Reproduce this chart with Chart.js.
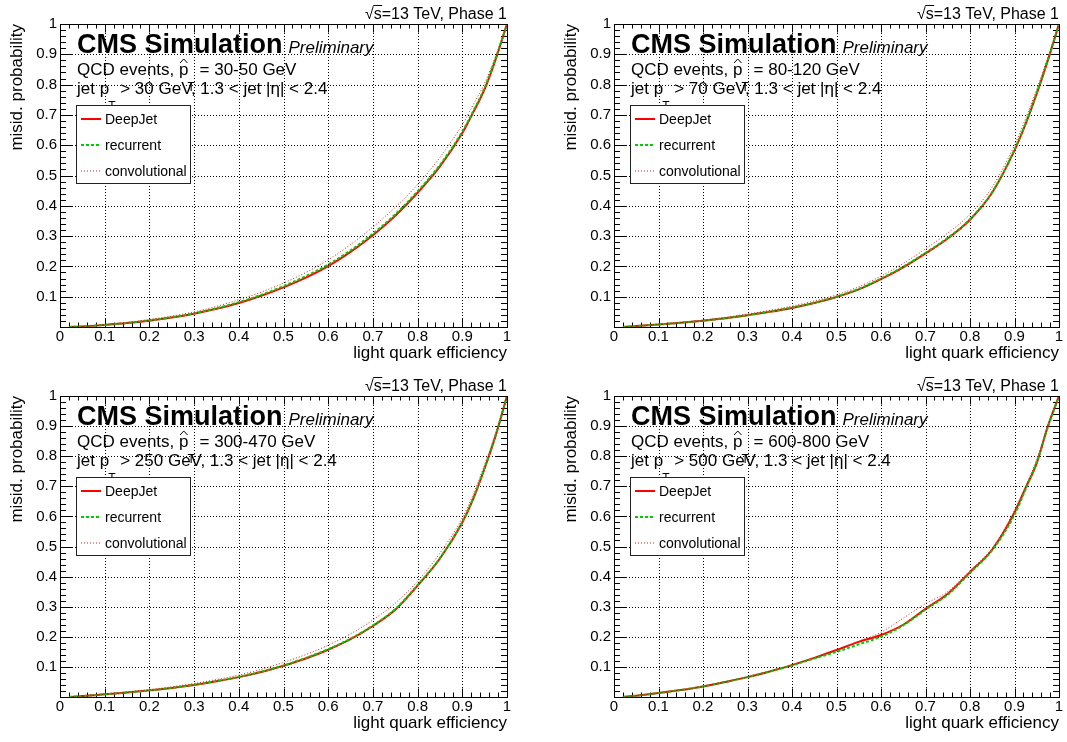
<!DOCTYPE html>
<html><head><meta charset="utf-8">
<script src="https://cdn.jsdelivr.net/npm/chart.js@4.4.1/dist/chart.umd.min.js"></script>
<style>
html,body{margin:0;padding:0;background:#fff;}
#wrap{position:relative;width:1067px;height:742px;overflow:hidden;background:#fff;}
canvas{position:absolute;}
</style></head><body><div id="wrap">
<canvas id="c1" width="533" height="371" style="left:0px;top:0px"></canvas>
<canvas id="c2" width="534" height="371" style="left:533px;top:0px"></canvas>
<canvas id="c3" width="533" height="371" style="left:0px;top:371px"></canvas>
<canvas id="c4" width="534" height="371" style="left:533px;top:371px"></canvas>
</div>
<script>
// ---------------- data ----------------
const effA = [0.02,0.05,0.1,0.15,0.2,0.25,0.3,0.35,0.4,0.45,0.5,0.55,0.6,0.65,0.7,0.75,0.8,0.85,0.9,0.925,0.95,0.975,1.0];

const deep1 = [0,0.002,0.007,0.013,0.021,0.031,0.044,0.060,0.079,0.103,0.131,0.163,0.201,0.248,0.303,0.367,0.443,0.530,0.640,0.710,0.785,0.885,1.0];
const rec1  = [0,0.002,0.007,0.013,0.022,0.032,0.045,0.062,0.082,0.106,0.135,0.168,0.206,0.253,0.308,0.372,0.448,0.535,0.645,0.714,0.790,0.888,1.0];
const conv1 = [0,0.002,0.008,0.015,0.025,0.036,0.050,0.068,0.090,0.115,0.145,0.180,0.222,0.272,0.330,0.395,0.470,0.560,0.668,0.735,0.805,0.895,1.0];

const deep2 = [0,0.003,0.008,0.014,0.021,0.029,0.039,0.050,0.063,0.079,0.099,0.124,0.158,0.197,0.243,0.292,0.354,0.444,0.583,0.670,0.770,0.880,1.0];
const rec2  = [0,0.003,0.008,0.014,0.021,0.029,0.039,0.051,0.064,0.080,0.100,0.126,0.160,0.199,0.245,0.294,0.356,0.446,0.585,0.672,0.772,0.882,1.0];
const conv2 = [0,0.003,0.009,0.015,0.023,0.032,0.043,0.055,0.069,0.086,0.106,0.133,0.168,0.210,0.258,0.310,0.372,0.462,0.600,0.688,0.785,0.890,1.0];

const deep3 = [0,0.003,0.009,0.015,0.022,0.030,0.040,0.052,0.066,0.083,0.104,0.128,0.157,0.192,0.236,0.290,0.370,0.460,0.580,0.660,0.760,0.870,1.0];
const rec3  = [0,0.003,0.009,0.015,0.022,0.030,0.041,0.053,0.067,0.084,0.105,0.130,0.159,0.194,0.238,0.292,0.372,0.462,0.582,0.662,0.762,0.872,1.0];
const conv3 = [0,0.003,0.010,0.017,0.025,0.034,0.045,0.058,0.073,0.092,0.115,0.141,0.172,0.210,0.256,0.312,0.385,0.478,0.595,0.675,0.772,0.878,1.0];

const deep4 = [0,0.004,0.013,0.023,0.035,0.050,0.066,0.085,0.106,0.130,0.156,0.183,0.206,0.240,0.293,0.343,0.415,0.490,0.613,0.695,0.777,0.900,1.0];
const rec4  = [0,0.004,0.013,0.023,0.035,0.050,0.066,0.085,0.105,0.128,0.150,0.175,0.200,0.238,0.290,0.340,0.412,0.488,0.605,0.690,0.780,0.897,1.0];
const conv4 = [0,0.004,0.013,0.023,0.035,0.050,0.067,0.086,0.107,0.131,0.157,0.185,0.215,0.262,0.310,0.350,0.420,0.495,0.620,0.700,0.790,0.900,1.0];

const xTicks = [0,0.1,0.2,0.3,0.4,0.5,0.6,0.7,0.8,0.9,1];
const xTickLabels = ['0','0.1','0.2','0.3','0.4','0.5','0.6','0.7','0.8','0.9','1'];
const yTicks = [0.1,0.2,0.3,0.4,0.5,0.6,0.7,0.8,0.9,1];
const yTickLabels = ['0.1','0.2','0.3','0.4','0.5','0.6','0.7','0.8','0.9','1'];
const ptBins = ['30-50','80-120','300-470','600-800'];
const jetPtCuts = ['30','70','250','500'];
const seriesNames = ['DeepJet','recurrent','convolutional'];

// ---------------- styling ----------------
const FONT = '"Liberation Sans", Arial, Helvetica, sans-serif';
const styles = [
  {color:'#ff0000', width:2, dash:[]},
  {color:'#00cc00', width:2, dash:[3,2]},
  {color:'#cc2020', width:1, dash:[1,2]}
];
const panels = [
  {id:'c1', w:533, h:371, area:{l:60,r:507,t:24,b:327}, series:[deep1,rec1,conv1]},
  {id:'c2', w:534, h:371, area:{l:81,r:526,t:24,b:327}, series:[deep2,rec2,conv2]},
  {id:'c3', w:533, h:371, area:{l:60,r:507,t:25,b:326}, series:[deep3,rec3,conv3]},
  {id:'c4', w:534, h:371, area:{l:81,r:526,t:25,b:326}, series:[deep4,rec4,conv4]}
];

function hline(ctx,x1,x2,y){ctx.beginPath();ctx.moveTo(x1,y);ctx.lineTo(x2,y);ctx.stroke();}
function vline(ctx,x,y1,y2){ctx.beginPath();ctx.moveTo(x,y1);ctx.lineTo(x,y2);ctx.stroke();}

function rootPlugin(pi){
  return {
    id:'rootStyle'+pi,
    beforeDatasetsDraw(chart){
      const ctx = chart.ctx, xs = chart.scales.x, ys = chart.scales.y;
      const {left:l,right:r,top:t,bottom:b} = chart.chartArea;
      ctx.save();
      ctx.strokeStyle = '#000'; ctx.lineWidth = 1;
      // dotted grid
      ctx.setLineDash([1,2]);
      xTicks.forEach(v=>{ if(v>0&&v<1){ const px=Math.round(xs.getPixelForValue(v))+0.5; vline(ctx,px,t,b);} });
      yTicks.forEach(v=>{ if(v>0&&v<1){ const py=Math.round(ys.getPixelForValue(v))+0.5; hline(ctx,l,r,py);} });
      ctx.setLineDash([]);
      // ticks on all four sides (major every 0.1, minor every 0.02)
      for(let i=0;i<=50;i++){
        const v=i/50, major=(i%5===0);
        const px=Math.round(xs.getPixelForValue(v))+0.5;
        const lx = major?8.5:4.5;
        vline(ctx,px,b,b-lx); vline(ctx,px,t,t+lx);
        const py=Math.round(ys.getPixelForValue(v))+0.5;
        const ly = major?12:6;
        hline(ctx,l,l+ly,py); hline(ctx,r,r-ly,py);
      }
      ctx.restore();
    },
    afterDatasetsDraw(chart){
      const ctx = chart.ctx;
      const {left:l,right:r,top:t,bottom:b} = chart.chartArea;
      ctx.save();
      ctx.strokeStyle='#000'; ctx.lineWidth=1;
      ctx.strokeRect(Math.round(l)+0.5, Math.round(t)+0.5, Math.round(r-l), Math.round(b-t));
      ctx.fillStyle='#000';
      ctx.textBaseline='alphabetic';
      // top-right label
      ctx.font='16px '+FONT; ctx.textAlign='right';
      const s='√s=13 TeV, Phase 1';
      ctx.fillText(s, r, t-5);
      const wAll=ctx.measureText(s).width, wR=ctx.measureText('√').width, wS=ctx.measureText('s').width;
      ctx.fillRect(r-wAll+wR-0.5, t-19, wS+1, 1);
      // axis titles
      ctx.font='17px '+FONT;
      ctx.fillText('light quark efficiency', r, b+31);
      ctx.save(); ctx.translate(l-38.5, t); ctx.rotate(-Math.PI/2);
      ctx.textAlign='right'; ctx.fillText('misid. probability', 0, 0); ctx.restore();
      // CMS label
      ctx.textAlign='left';
      ctx.font='bold 27px '+FONT;
      ctx.fillText('CMS Simulation', l+17, t+29);
      const wc=ctx.measureText('CMS Simulation').width;
      ctx.font='italic 17px '+FONT;
      ctx.fillText('Preliminary', l+17+wc+6, t+29);
      // info lines
      let x=l+17, y1=t+51, y2=t+70;
      ctx.font='17px '+FONT;
      let a='QCD events, '; ctx.fillText(a,x,y1); x+=ctx.measureText(a).width;
      const wp=ctx.measureText('p').width;
      ctx.fillText('p',x,y1);
      ctx.beginPath(); ctx.lineWidth=1;
      ctx.moveTo(x+1,y1-12); ctx.lineTo(x+wp/2,y1-16); ctx.lineTo(x+wp-1,y1-12); ctx.stroke();
      ctx.font='12px '+FONT; ctx.fillText('T',x+wp-1,y1+16); const wt=ctx.measureText('T').width;
      x += wp-1+wt;
      ctx.font='17px '+FONT; ctx.fillText(' = '+ptBins[pi]+' GeV',x,y1);
      x=l+17;
      a='jet '; ctx.fillText(a,x,y2); x+=ctx.measureText(a).width;
      ctx.fillText('p',x,y2);
      ctx.font='12px '+FONT; ctx.fillText('T',x+wp-1,y2+16);
      x += wp-1+wt;
      ctx.font='17px '+FONT; ctx.fillText(' > '+jetPtCuts[pi]+' GeV, 1.3 < jet |η| < 2.4',x,y2);
      // legend
      const bx=Math.round(l+16)+0.5, by=Math.round(t+81)+0.5, bw=114, bh=78;
      ctx.fillStyle='#fff'; ctx.fillRect(bx,by,bw,bh);
      ctx.strokeStyle='#222'; ctx.lineWidth=1; ctx.strokeRect(bx,by,bw,bh);
      const ys=[t+95,t+121,t+147];
      ctx.font='14px '+FONT; ctx.textAlign='left';
      seriesNames.forEach((n,i)=>{
        const st=styles[i];
        ctx.strokeStyle=st.color; ctx.lineWidth=st.width; ctx.setLineDash(st.dash);
        hline(ctx,l+21,l+41,ys[i]);
        ctx.setLineDash([]);
        ctx.fillStyle='#000'; ctx.fillText(n,l+45,ys[i]+5);
      });
      ctx.restore();
    }
  };
}

panels.forEach((p,pi)=>{
  const datasets = p.series.map((vals,i)=>({
    label: seriesNames[i],
    data: effA.map((x,k)=>({x:x, y:vals[k]})),
    borderColor: styles[i].color,
    borderWidth: styles[i].width,
    borderDash: styles[i].dash,
    pointRadius: 0,
    fill: false,
    cubicInterpolationMode: 'monotone',
    order: 3-i
  }));
  new Chart(document.getElementById(p.id), {
    type:'line',
    data:{datasets},
    options:{
      responsive:false, animation:false, events:[],
      layout:{padding:{left:p.area.l-60, right:p.w-p.area.r, top:p.area.t, bottom:0}},
      plugins:{legend:{display:false}, tooltip:{enabled:false}},
      scales:{
        x:{type:'linear', min:0, max:1,
           grid:{display:false, drawTicks:false}, border:{display:false},
           afterBuildTicks:s=>{ s.ticks = xTicks.map(v=>({value:v})); },
           afterFit:s=>{ s.height = p.h - p.area.b; },
           ticks:{autoSkip:false, maxRotation:0, minRotation:0, padding:1, color:'#000',
                  font:{family:FONT, size:15}, callback:(v,i)=>xTickLabels[i]}},
        y:{type:'linear', min:0, max:1,
           grid:{display:false, drawTicks:false}, border:{display:false},
           afterBuildTicks:s=>{ s.ticks = yTicks.map(v=>({value:v})); },
           afterFit:s=>{ s.width = 60; },
           ticks:{autoSkip:false, padding:3, color:'#000',
                  font:{family:FONT, size:15}, callback:(v,i)=>yTickLabels[i]}}
      }
    },
    plugins:[rootPlugin(pi)]
  });
});
</script>
</body></html>
